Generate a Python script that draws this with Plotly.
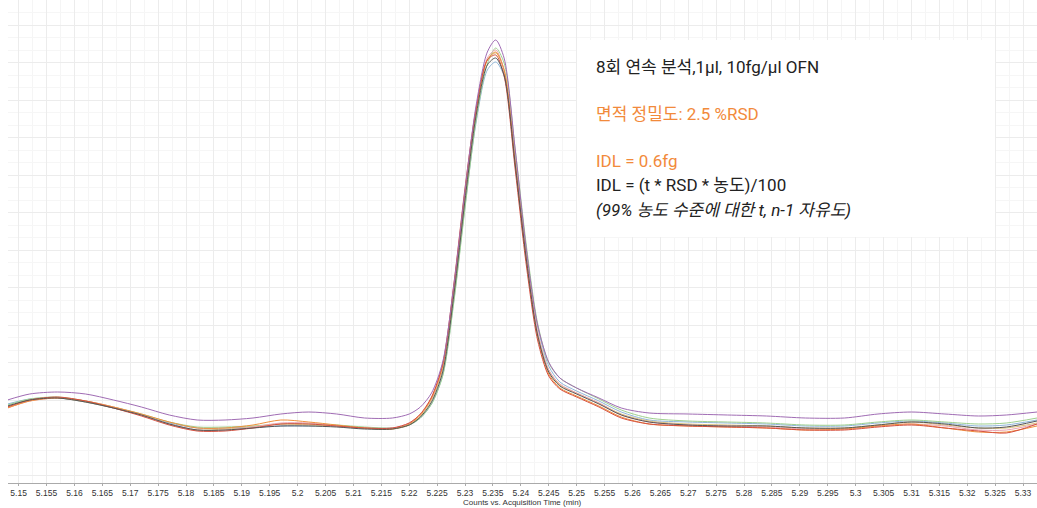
import plotly.graph_objects as go

# Retention time (min)
time_min = [5.148, 5.152, 5.157, 5.162, 5.167, 5.172, 5.177, 5.182, 5.187, 5.192,
            5.197, 5.202, 5.207, 5.212, 5.217, 5.220, 5.222, 5.224, 5.226, 5.228,
            5.230, 5.232, 5.234, 5.2355, 5.237, 5.239, 5.241, 5.243, 5.245, 5.247,
            5.250, 5.254, 5.258, 5.263, 5.270, 5.277, 5.284, 5.291, 5.298, 5.304,
            5.310, 5.316, 5.322, 5.327, 5.3325]

# Counts (relative) for 8 replicate injections
run1 = [82, 88, 90, 86, 80, 73, 64, 58, 58, 60, 62, 62, 61, 59, 59, 63, 71, 86, 116, 193,
        288, 373, 423, 430, 413, 323, 228, 153, 116, 102, 94, 84, 73, 66, 63, 62, 62, 60, 60, 63,
        66, 64, 60, 61, 67]
run2 = [88, 94, 96, 94, 88, 81, 73, 68, 68, 70, 74, 76, 74, 70, 70, 74, 81, 95, 126, 203,
        298, 383, 436, 448, 430, 338, 238, 163, 126, 110, 100, 90, 80, 75, 74, 73, 72, 70, 70, 74,
        76, 74, 72, 73, 76]
run3 = [80, 87, 90, 87, 81, 74, 66, 60, 60, 63, 68, 66, 63, 60, 59, 64, 73, 90, 122, 200,
        295, 378, 428, 436, 418, 325, 228, 152, 114, 100, 92, 82, 71, 64, 62, 61, 60, 58, 59, 62,
        64, 60, 56, 56, 62]
run4 = [81, 88, 91, 87, 80, 72, 63, 57, 57, 60, 64, 64, 62, 60, 60, 65, 74, 91, 124, 204,
        300, 380, 428, 433, 412, 318, 222, 148, 112, 99, 91, 81, 70, 64, 62, 61, 60, 58, 58, 61,
        63, 60, 57, 55, 64]
run5 = [83, 89, 91, 87, 81, 74, 66, 61, 61, 62, 64, 64, 63, 61, 60, 63, 70, 84, 112, 186,
        280, 368, 424, 440, 425, 338, 242, 165, 125, 110, 100, 89, 78, 70, 67, 66, 65, 63, 63, 66,
        68, 66, 64, 65, 70]
run6 = [84, 89, 90, 86, 80, 73, 65, 60, 60, 61, 62, 62, 62, 60, 60, 63, 70, 84, 113, 188,
        282, 366, 418, 426, 412, 330, 238, 162, 122, 106, 97, 87, 76, 68, 66, 65, 64, 62, 62, 65,
        67, 65, 62, 63, 68]
run7 = [80, 87, 90, 87, 81, 73, 64, 58, 58, 61, 65, 65, 62, 60, 60, 65, 74, 90, 122, 200,
        296, 378, 430, 438, 418, 326, 230, 156, 118, 104, 95, 85, 73, 66, 63, 62, 61, 59, 59, 62,
        64, 62, 58, 58, 64]
run8 = [81, 88, 90, 86, 80, 73, 64, 58, 59, 61, 64, 63, 62, 60, 59, 63, 72, 88, 119, 196,
        292, 376, 428, 435, 418, 328, 232, 156, 118, 103, 95, 85, 74, 67, 64, 63, 62, 60, 60, 63,
        66, 63, 60, 60, 65]

runs = [run6, run5, run8, run7, run3, run4, run2, run1]
colors = ["#8fb6da", "#9fd08f", "#d9bf7a", "#eba2b0", "#f0903c", "#d6503f", "#a06cb4", "#555555"]

tick_vals = [5.15, 5.155, 5.16, 5.165, 5.17, 5.175, 5.18, 5.185, 5.19, 5.195, 5.2, 5.205,
             5.21, 5.215, 5.22, 5.225, 5.23, 5.235, 5.24, 5.245, 5.25, 5.255, 5.26, 5.265,
             5.27, 5.275, 5.28, 5.285, 5.29, 5.295, 5.3, 5.305, 5.31, 5.315, 5.32, 5.325, 5.33]
tick_text = ["5.15", "5.155", "5.16", "5.165", "5.17", "5.175", "5.18", "5.185", "5.19",
             "5.195", "5.2", "5.205", "5.21", "5.215", "5.22", "5.225", "5.23", "5.235",
             "5.24", "5.245", "5.25", "5.255", "5.26", "5.265", "5.27", "5.275", "5.28",
             "5.285", "5.29", "5.295", "5.3", "5.305", "5.31", "5.315", "5.32", "5.325", "5.33"]

fig = go.Figure()
for r, c in zip(runs, colors):
    fig.add_trace(go.Scatter(x=time_min, y=r, mode="lines",
                             line=dict(color=c, width=1, shape="spline", smoothing=0.8),
                             showlegend=False, hoverinfo="skip"))

W, H = 1037, 508
L, R, T, B = 8, 0, 0, 25
pw, ph = W - L - R, H - T - B

def px(x):
    return (x - L) / pw

def py(y):
    return (H - B - y) / ph

fig.add_shape(type="rect", xref="paper", yref="paper",
              x0=px(577), x1=px(995), y0=py(237), y1=py(40),
              fillcolor="white", line=dict(width=0), layer="above")

font_main = "Roboto, 'Noto Sans CJK KR', sans-serif"
lines = [
    ("8회 연속 분석,1μl, 10fg/μl OFN", 67, "#222222", False),
    ("면적 정밀도: 2.5 %RSD", 114, "#f28a3b", False),
    ("IDL = 0.6fg", 161, "#f28a3b", False),
    ("IDL = (t * RSD * 농도)/100", 185, "#222222", False),
    ("(99% 농도 수준에 대한 t, n-1 자유도)", 210, "#222222", True),
]
for txt, y, col, it in lines:
    fig.add_annotation(text=("<i>%s</i>" % txt) if it else txt,
                       xref="paper", yref="paper", x=px(594), y=py(y),
                       xanchor="left", yanchor="middle", showarrow=False,
                       font=dict(family=font_main, size=17, color=col))

# x-axis title
fig.add_annotation(text="Counts vs. Acquisition Time (min)", xref="paper", yref="paper",
                   x=px(522), y=py(502), xanchor="center", yanchor="middle", showarrow=False,
                   font=dict(family="Liberation Sans, Arial, sans-serif", size=8, color="#333333"))

fig.update_layout(
    width=W, height=H,
    margin=dict(l=L, r=R, t=T, b=B),
    paper_bgcolor="white", plot_bgcolor="white",
    xaxis=dict(range=[5.1481, 5.3325], tickmode="array", tickvals=tick_vals, ticktext=tick_text,
               tickfont=dict(family="Liberation Sans, Arial, sans-serif", size=8.5, color="#333333"),
               ticks="outside", ticklen=2, tickcolor="#aaaaaa",
               showline=True, linecolor="#aaaaaa", linewidth=1,
               showgrid=True, gridcolor="#ececec", gridwidth=1, zeroline=False,
               minor=dict(dtick=0.0025, tick0=5.15, showgrid=True, gridcolor="#f5f5f5")),
    yaxis=dict(range=[5, 488], showticklabels=False, ticks="", zeroline=False,
               showgrid=True, tick0=13, dtick=37.5, gridcolor="#ececec",
               minor=dict(tick0=13, dtick=12.5, showgrid=True, gridcolor="#f6f6f6"),
               showline=False),
)

fig.write_html("out.html")
